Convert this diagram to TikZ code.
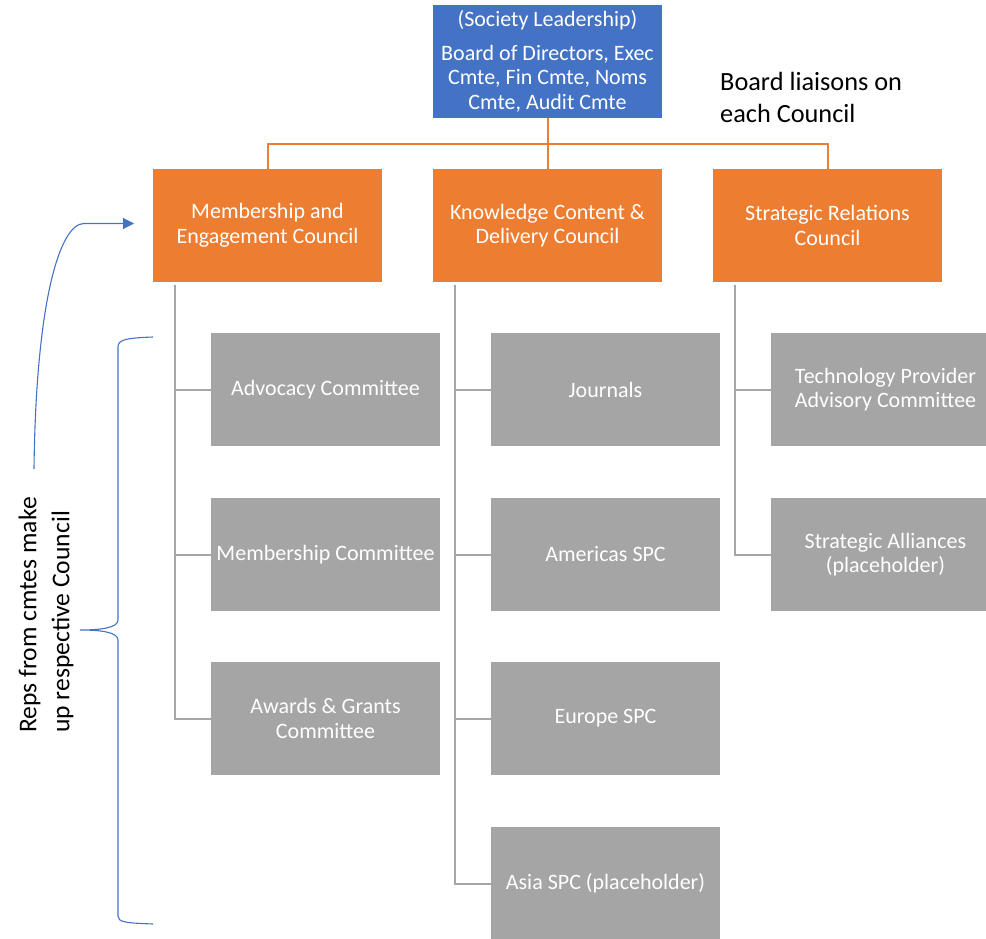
\documentclass[tikz,border=0pt]{standalone}
\usepackage{fontspec}
\setmainfont{Carlito}
\usetikzlibrary{arrows.meta,calc}
\definecolor{lblue}{HTML}{4472C4}
\definecolor{lorange}{HTML}{ED7D31}
\definecolor{lgrey}{HTML}{A5A5A5}
\tikzset{
  boxbase/.style={rectangle,minimum width=229pt,minimum height=113pt,inner sep=2pt,align=center,text=white,font=\fontsize{22}{24.5}\selectfont},
  topbox/.style={boxbase,fill=lblue},
  council/.style={boxbase,fill=lorange},
  cmte/.style={boxbase,fill=lgrey},
  oline/.style={draw=lorange,line width=2pt},
  gline/.style={draw=lgrey,line width=2pt},
  bline/.style={draw=lblue,line width=1.1pt},
  note/.style={font=\fontsize{26.3}{31.5}\selectfont,align=left,inner sep=0pt},
  sidenote/.style={font=\fontsize{25.6}{33}\selectfont,align=left,inner sep=0pt}
}
\begin{document}
\begin{tikzpicture}[x=1pt,y=-1pt]
\useasboundingbox (0,0) rectangle (986,939);
% top
\node[topbox] (top) at (547.5,61.5) {(Society Leadership)\\[9pt]Board of Directors, Exec\\Cmte, Fin Cmte, Noms\\Cmte, Audit Cmte};
\node[council] (c1) at (267.5,225.5) {Membership and\\Engagement Council};
\node[council] (c2) at (547.5,225.5) {Knowledge Content \&\\Delivery Council};
\node[council] (c3) at (827.5,225.5) {Strategic Relations\\Council};
% committees
\node[cmte] (a1) at (325.5,389.5) {Advocacy Committee};
\node[cmte] (a2) at (325.5,554.5) {Membership Committee};
\node[cmte] (a3) at (325.5,718.5) {Awards \& Grants\\Committee};
\node[cmte] (b1) at (605.5,389.5) {Journals};
\node[cmte] (b2) at (605.5,554.5) {Americas SPC};
\node[cmte] (b3) at (605.5,718.5) {Europe SPC};
\node[cmte] (b4) at (605.5,883.5) {Asia SPC (placeholder)};
\node[cmte] (s1) at (885.5,389.5) {Technology Provider\\Advisory Committee};
\node[cmte] (s2) at (885.5,554.5) {Strategic Alliances\\(placeholder)};
% orange connectors
\coordinate (bus) at (547.5,144);
\draw[oline] (top.south) -- (c2.north);
\draw[oline] (c1.north) |- (bus) -| (c3.north);
% grey connectors
\coordinate (t1) at ($(c1.south west)+(22,3)$);
\coordinate (t2) at ($(c2.south west)+(22,3)$);
\coordinate (t3) at ($(c3.south west)+(22,3)$);
\draw[gline] (t1) |- (a3.west);
\draw[gline] (t1 |- a1.west) -- (a1.west);
\draw[gline] (t1 |- a2.west) -- (a2.west);
\draw[gline] (t2) |- (b4.west);
\draw[gline] (t2 |- b1.west) -- (b1.west);
\draw[gline] (t2 |- b2.west) -- (b2.west);
\draw[gline] (t2 |- b3.west) -- (b3.west);
\draw[gline] (t3) |- (s2.west);
\draw[gline] (t3 |- s1.west) -- (s1.west);
% notes
\node[note,anchor=west] (liaison) at (720,97.5) {Board liaisons on\\each Council};
\node[sidenote,rotate=90,anchor=west] (reps) at (46,733) {Reps from cmtes make\\up respective Council};
% brace
\coordinate (bt) at (153,337);
\coordinate (bb) at (153,924);
\coordinate (cusp) at (80,630);
\draw[bline] (bt) .. controls (125,338) and (118,340) .. (118,347) -- (118,620)
  .. controls (118,628) and (100,630) .. (cusp)
  .. controls (100,630) and (118,632) .. (118,640) -- (118,916)
  .. controls (118,922) and (125,923) .. (bb);
% arrow
\coordinate (as) at (34,469);
\coordinate (ae) at (134,223.5);
\draw[bline,-{Triangle[length=11pt,width=11pt]}] (as) .. controls (36,300) and (60,223.5) .. (84,223.5) -- (ae);
\end{tikzpicture}
\end{document}
